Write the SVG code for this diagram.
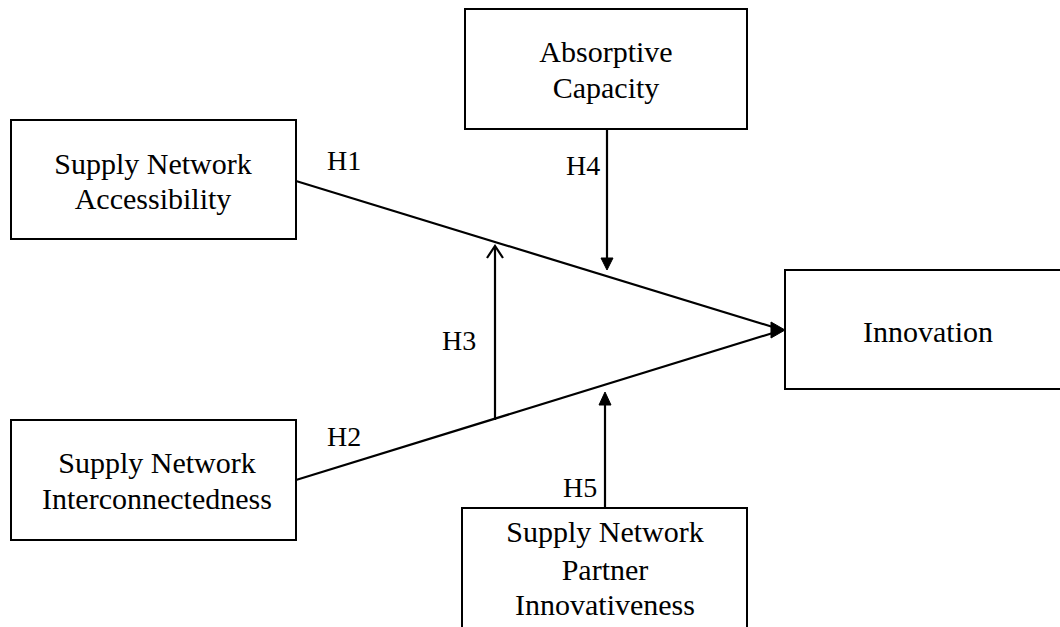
<svg xmlns="http://www.w3.org/2000/svg" width="1060" height="627" viewBox="0 0 1060 627">
  <style>
    .box { fill: #ffffff; stroke: #000000; stroke-width: 2; }
    .lbl { font-family: "Liberation Serif", "Times New Roman", serif; font-size: 30px; fill: #000000; text-anchor: middle; }
    .hyp { font-family: "Liberation Serif", "Times New Roman", serif; font-size: 28px; fill: #000000; }
    .edge { stroke: #000000; stroke-width: 2.2; fill: none; }
    .head { fill: #000000; stroke: #000000; stroke-width: 1; stroke-linejoin: miter; }
  </style>
  <rect width="1060" height="627" fill="#ffffff"/>

  <g id="connectors">
    <!-- H1: accessibility to innovation -->
    <line class="edge" x1="296" y1="181" x2="776" y2="328"/>
    <!-- H2: interconnectedness to innovation -->
    <line class="edge" x1="296" y1="480" x2="776" y2="332"/>
    <polygon class="head" points="771,322 785,330 771,338"/>
    <!-- H3: moderation arrow between the two paths -->
    <line class="edge" x1="495" y1="420" x2="495" y2="247"/>
    <polyline class="edge" points="487,258 495,246 503,258"/>
    <!-- H4: absorptive capacity down onto H1 -->
    <line class="edge" x1="607" y1="129" x2="607" y2="260"/>
    <polygon class="head" points="601,258 613,258 607,270"/>
    <!-- H5: partner innovativeness up onto H2 -->
    <line class="edge" x1="605" y1="508" x2="605" y2="402"/>
    <polygon class="head" points="599,405 611,405 605,392"/>

    <text class="hyp" x="327" y="170">H1</text>
    <text class="hyp" x="327" y="446">H2</text>
    <text class="hyp" x="442" y="350">H3</text>
    <text class="hyp" x="566" y="175">H4</text>
    <text class="hyp" x="563" y="497">H5</text>
  </g>

  <g id="accessibility">
    <rect class="box" x="11" y="120" width="285" height="119"/>
    <text class="lbl" x="153" y="174">Supply Network</text>
    <text class="lbl" x="153" y="209">Accessibility</text>
  </g>

  <g id="interconnectedness">
    <rect class="box" x="11" y="420" width="285" height="120"/>
    <text class="lbl" x="157" y="473">Supply Network</text>
    <text class="lbl" x="157" y="509">Interconnectedness</text>
  </g>

  <g id="absorptive-capacity">
    <rect class="box" x="465" y="9" width="282" height="120"/>
    <text class="lbl" x="606" y="62">Absorptive</text>
    <text class="lbl" x="606" y="98">Capacity</text>
  </g>

  <g id="innovation">
    <rect class="box" x="785" y="270" width="290" height="119"/>
    <text class="lbl" x="928" y="342">Innovation</text>
  </g>

  <g id="partner-innovativeness">
    <rect class="box" x="462" y="508" width="285" height="140"/>
    <text class="lbl" x="605" y="542">Supply Network</text>
    <text class="lbl" x="605" y="580">Partner</text>
    <text class="lbl" x="605" y="615">Innovativeness</text>
  </g>
</svg>
